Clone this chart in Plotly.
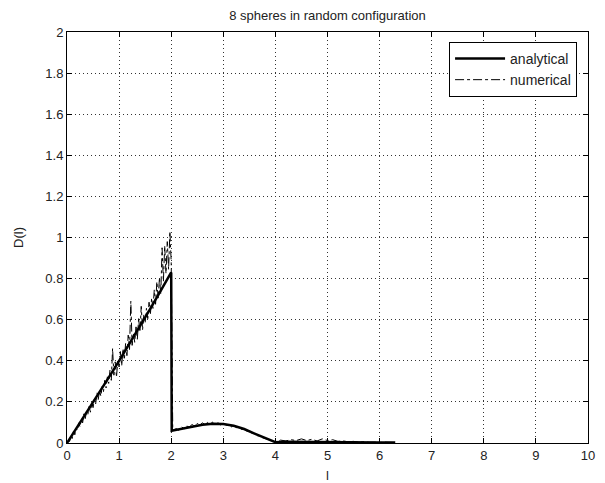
import plotly.graph_objects as go

title_text = "8 spheres in random configuration"
x_label = "l"
y_label = "D(l)"

# analytical curve
ana_l = [0.0, 0.2, 0.4, 0.6, 0.8, 1.0, 1.2, 1.4, 1.6, 1.8, 2.0, 2.01,
         2.2, 2.4, 2.6, 2.8, 3.0, 3.2, 3.4, 3.6, 3.8, 4.0, 4.2, 4.5, 5.0, 5.5, 6.0, 6.3]
ana_d = [0.0, 0.078, 0.156, 0.236, 0.318, 0.40, 0.483, 0.568, 0.654, 0.741, 0.83, 0.06,
         0.070, 0.080, 0.089, 0.094, 0.092, 0.084, 0.068, 0.046, 0.023, 0.004, 0.006, 0.006,
         0.005, 0.004, 0.003, 0.002]

# numerical (noisy) curve
num_l = [0.000, 0.025, 0.050, 0.075, 0.100, 0.125, 0.150, 0.175, 0.200, 0.225,
         0.250, 0.275, 0.300, 0.325, 0.350, 0.375, 0.400, 0.425, 0.450, 0.475,
         0.500, 0.525, 0.550, 0.575, 0.600, 0.625, 0.650, 0.675, 0.700, 0.725,
         0.750, 0.775, 0.800, 0.825, 0.850, 0.875, 0.900, 0.925, 0.950, 0.975,
         1.000, 1.025, 1.050, 1.075, 1.100, 1.125, 1.150, 1.175, 1.200, 1.225,
         1.250, 1.275, 1.300, 1.325, 1.350, 1.375, 1.400, 1.425, 1.450, 1.475,
         1.500, 1.525, 1.550, 1.575, 1.600, 1.625, 1.650, 1.675, 1.700, 1.725,
         1.750, 1.775, 1.800, 1.825, 1.850, 1.875, 1.900, 1.925, 1.950, 1.975,
         2.000, 2.020, 2.030,
         2.05, 2.1, 2.15, 2.2, 2.25, 2.3, 2.35, 2.4, 2.45, 2.5, 2.55, 2.6, 2.65, 2.7,
         2.75, 2.8, 2.85, 2.9, 2.95, 3.0, 3.05, 3.1, 3.15, 3.2, 3.25, 3.3, 3.35, 3.4,
         3.45, 3.5, 3.55, 3.6, 3.65, 3.7, 3.75, 3.8, 3.85, 3.9, 3.95, 4.0, 4.1, 4.2,
         4.3, 4.4, 4.5, 4.6, 4.7, 4.8, 4.9, 5.0, 5.1, 5.2, 5.3, 5.4, 5.5, 5.6, 5.7,
         5.8, 5.9, 6.0, 6.1, 6.2, 6.3]
num_d = [0.000, 0.012, 0.008, 0.035, 0.022, 0.058, 0.040, 0.072, 0.062, 0.098,
         0.078, 0.118, 0.098, 0.142, 0.118, 0.155, 0.138, 0.178, 0.150, 0.198,
         0.172, 0.212, 0.190, 0.245, 0.212, 0.255, 0.228, 0.275, 0.250, 0.305,
         0.268, 0.322, 0.290, 0.355, 0.305, 0.460, 0.330, 0.395, 0.320, 0.405,
         0.370, 0.445, 0.375, 0.460, 0.405, 0.485, 0.425, 0.525, 0.455, 0.690,
         0.475, 0.535, 0.490, 0.565, 0.505, 0.605, 0.540, 0.665, 0.550, 0.625,
         0.585, 0.655, 0.605, 0.685, 0.625, 0.705, 0.655, 0.745, 0.675, 0.785,
         0.705, 0.805, 0.725, 0.950, 0.785, 0.960, 0.825, 0.980, 0.845, 1.030,
         0.880, 0.450, 0.060,
         0.065, 0.070, 0.062, 0.078, 0.070, 0.082, 0.078, 0.090, 0.082, 0.095, 0.088,
         0.098, 0.090, 0.100, 0.093, 0.102, 0.092, 0.098, 0.088, 0.095, 0.086, 0.090,
         0.078, 0.085, 0.075, 0.076, 0.066, 0.068, 0.058, 0.056, 0.048, 0.046, 0.036,
         0.034, 0.026, 0.022, 0.016, 0.012, 0.008, 0.006, 0.014, 0.010, 0.016, 0.012,
         0.020, 0.012, 0.018, 0.010, 0.020, 0.012, 0.016, 0.008, 0.010, 0.006, 0.008,
         0.004, 0.006, 0.003, 0.004, 0.002, 0.004, 0.003, 0.002]

x_ticks = [0, 1, 2, 3, 4, 5, 6, 7, 8, 9, 10]
y_ticks = [0, 0.2, 0.4, 0.6, 0.8, 1.0, 1.2, 1.4, 1.6, 1.8, 2.0]
y_tick_labels = ["0", "0.2", "0.4", "0.6", "0.8", "1", "1.2", "1.4", "1.6", "1.8", "2"]

FONT = "Liberation Sans, Arial, sans-serif"
TXT = "#222"

fig = go.Figure()
fig.add_trace(go.Scatter(x=ana_l, y=ana_d, mode="lines", name="analytical",
                         line=dict(color="black", width=2.5)))
fig.add_trace(go.Scatter(x=num_l, y=num_d, mode="lines", name="numerical",
                         line=dict(color="black", width=1, dash="dashdot")))

axis_common = dict(showline=True, linecolor="black", linewidth=1, mirror="allticks",
                   ticks="inside", ticklen=5, tickcolor="black", automargin=False,
                   showgrid=True, gridcolor="#333", gridwidth=1, griddash="1px,3px",
                   zeroline=False, tickfont=dict(family=FONT, size=13, color=TXT))

fig.update_xaxes(range=[0, 10], tickvals=x_ticks, title=dict(text=x_label, standoff=9,
                 font=dict(family=FONT, size=13, color=TXT)), **axis_common)
fig.update_yaxes(range=[0, 2], tickvals=y_ticks, ticktext=y_tick_labels,
                 title=dict(text=y_label, standoff=18, font=dict(family=FONT, size=13, color=TXT)),
                 **axis_common)

fig.update_layout(
    width=597, height=475,
    margin=dict(l=59, r=17, t=24, b=40),
    paper_bgcolor="white", plot_bgcolor="white",
    title=dict(text=title_text, x=0.5, xref="paper", y=1.0, yanchor="top", yref="container",
               pad=dict(t=3, b=0),
               font=dict(family=FONT, size=13, color=TXT)),
    font=dict(family=FONT, size=13, color=TXT),
    legend=dict(x=0.979, y=0.976, xanchor="right", yanchor="top",
                bordercolor="black", borderwidth=1, bgcolor="white",
                font=dict(family=FONT, size=14, color=TXT),
                tracegroupgap=0, itemwidth=50),
    showlegend=True,
)

fig.write_html("out.html")
